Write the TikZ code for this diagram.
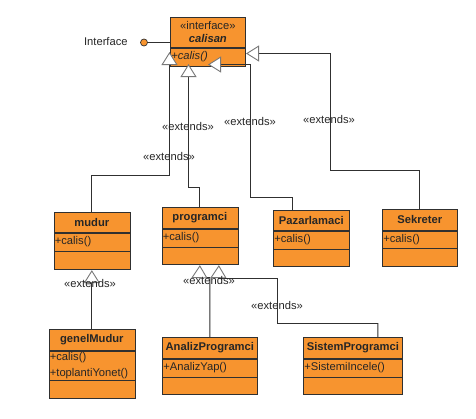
\documentclass[tikz,border=0pt]{standalone}
\usepackage{fontspec}
\setmainfont{Liberation Sans}
\usepackage{tikz}
\usetikzlibrary{arrows.meta, positioning, calc}

\definecolor{umlfill}{HTML}{F7942F}
\definecolor{umlline}{HTML}{303030}
\definecolor{triline}{HTML}{787878}
\newcommand{\umlfont}{\fontsize{11.2}{13}\selectfont}

\begin{document}
\begin{tikzpicture}[
    x=1pt, y=-1pt, line width=0.7pt,
    every node/.style={font=\umlfont, text=black!85},
    classname/.style={rectangle, draw=umlline, fill=umlfill, anchor=north west, inner sep=0pt, minimum height=20pt, font=\umlfont\bfseries},
    methods/.style={rectangle, draw=umlline, fill=umlfill, align=left, inner xsep=1pt, inner ysep=0pt, minimum height=18pt, text width=#1},
    blank/.style={rectangle, draw=umlline, fill=umlfill, inner sep=0pt, minimum height=18pt, minimum width=#1},
    ext/.style={draw=umlline, line width=0.9pt, -{Triangle[length=13pt, width=16pt, fill=white, color=triline, line width=0.9pt]}},
    label/.style={inner sep=0pt}
]
\useasboundingbox (0,0) rectangle (476,418);

% interface
\node[classname, minimum width=75pt, minimum height=30pt, align=center] (calisan) at (170,17) {{\mdseries «interface»}\\\textit{calisan}};
\node[methods=73pt, below=0pt of calisan] (calisan-m) {\textit{+calis()}};
\node[circle, draw=umlline, fill=umlfill, inner sep=0pt, minimum size=7pt] (ifc) at (144,42.5) {};
\node[anchor=east, inner sep=0pt] (ifclabel) at (128,41) {Interface};
\draw[umlline] (ifc) -- (ifc -| calisan.west);

% first level
\node[classname, minimum width=76pt] (mudur) at (53.5,212) {mudur};
\node[methods=74pt, below=0pt of mudur] (mudur-m) {+calis()};
\node[blank=76pt, below=0pt of mudur-m] (mudur-e) {};

\node[classname, minimum width=76pt, minimum height=21pt] (programci) at (161.5,207) {programci};
\node[methods=74pt, below=0pt of programci] (programci-m) {+calis()};
\node[blank=76pt, minimum height=17pt, below=0pt of programci-m] (programci-e) {};

\node[classname, minimum width=76pt] (pazarlamaci) at (273,210) {Pazarlamaci};
\node[methods=74pt, below=0pt of pazarlamaci] (pazarlamaci-m) {+calis()};
\node[blank=76pt, minimum height=17pt, below=0pt of pazarlamaci-m] (pazarlamaci-e) {};

\node[classname, minimum width=75pt, minimum height=21pt] (sekreter) at (382,209) {Sekreter};
\node[methods=73pt, minimum height=17pt, below=0pt of sekreter] (sekreter-m) {+calis()};
\node[blank=75pt, below=0pt of sekreter-m] (sekreter-e) {};

% second level
\node[classname, minimum width=86pt, minimum height=21pt] (genelMudur) at (48.5,329) {genelMudur};
\node[methods=84pt, minimum height=29pt, below=0pt of genelMudur] (genelMudur-m) {+calis()\\[3pt]+toplantiYonet()};
\node[blank=86pt, below=0pt of genelMudur-m] (genelMudur-e) {};

\node[classname, minimum width=95pt, minimum height=21pt] (analiz) at (162,337) {AnalizProgramci};
\node[methods=93pt, below=0pt of analiz] (analiz-m) {+AnalizYap()};
\node[blank=95pt, minimum height=17pt, below=0pt of analiz-m] (analiz-e) {};

\node[classname, minimum width=99pt, minimum height=21pt] (sistem) at (303,337) {SistemProgramci};
\node[methods=97pt, below=0pt of sistem] (sistem-m) {+SistemiIncele()};
\node[blank=99pt, minimum height=17pt, below=0pt of sistem-m] (sistem-e) {};

% arrow targets on calisan
\coordinate (tm) at (169.5,52);
\coordinate (tp) at (188.5,64);
\coordinate (tz) at (208,64.5);
\coordinate (ts) at (246,53.5);

% generalizations
\draw[ext] (mudur.north) |- (169.5,175.5) -- (tm);
\draw[ext] (programci.north) |- (188.5,187.5) -- (tp);
\draw[ext] ($(pazarlamaci.north)+(-18.5,0)$) |- (250.5,197.5) |- (tz);
\draw[ext] (sekreter.north) |- (330.5,170.5) |- (ts);
\draw[ext] (genelMudur.north) -- (mudur-e.south);
\draw[ext] (analiz.north) |- (199.5,277.5) -- (programci-e.south);
\draw[ext] ($(sistem.north)+(25,0)$) |- (277.5,323.5) |- (218.5,278.5) -- ($(programci-e.south)+(19,0)$);

% stereotype labels
\node[label] (ext1) at (188,126) {«extends»};
\node[label] (ext2) at (169,156) {«extends»};
\node[label] (ext3) at (250,121) {«extends»};
\node[label] (ext4) at (329,119) {«extends»};
\node[label] (ext5) at (90,283) {«extends»};
\node[label] (ext6) at (209,280) {«extends»};
\node[label] (ext7) at (277,305) {«extends»};

\end{tikzpicture}
\end{document}
